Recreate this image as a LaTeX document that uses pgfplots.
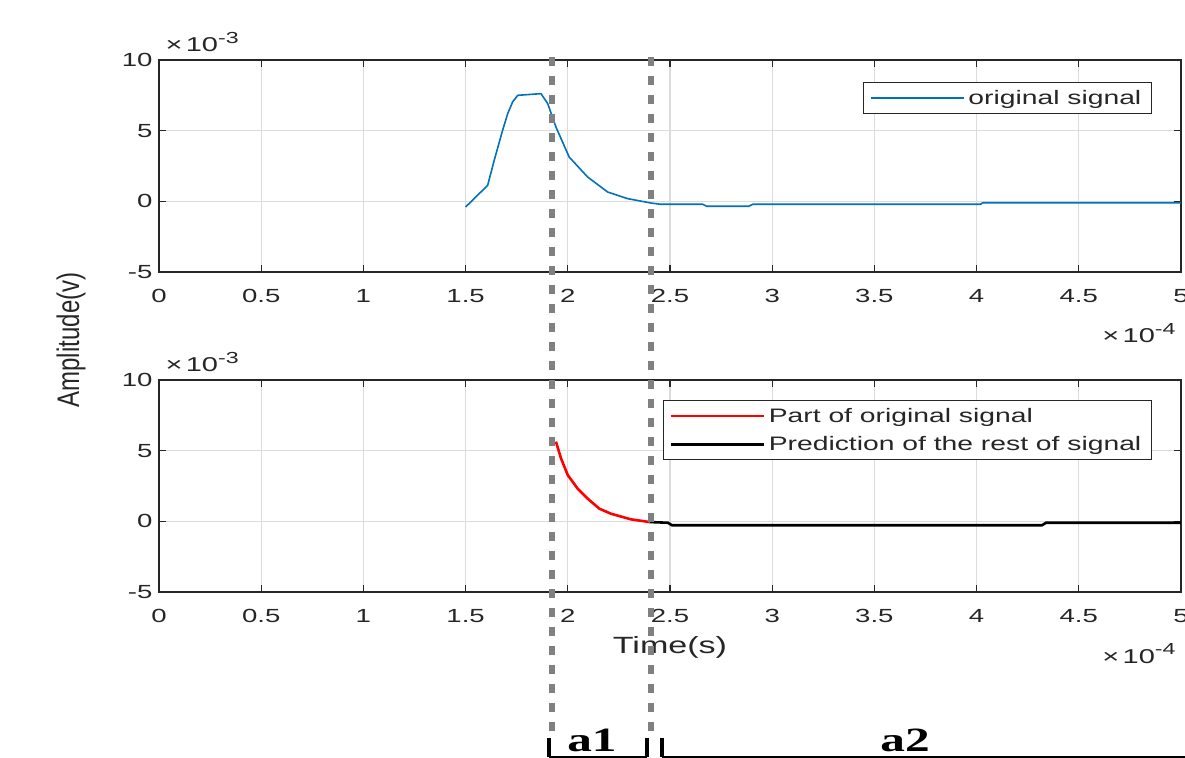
\documentclass[border=0pt]{standalone}
\usepackage{pgfplots}
\pgfplotsset{compat=1.18}
\usepackage{fontspec}
\setmainfont{Liberation Sans}[FakeStretch=1.45]
\newfontfamily\uprightsans{Liberation Sans}
\newfontfamily\serifbold{Liberation Serif}[FakeStretch=1.45]

\definecolor{mlblue}{RGB}{0,114,189}
\definecolor{axgray}{RGB}{38,38,38}
\definecolor{gridgray}{RGB}{220,220,220}
\definecolor{dashgray}{RGB}{128,128,128}

\newcommand{\scalelabel}[1]{{\fontsize{20bp}{22bp}\selectfont ×\,10\raisebox{0.42em}{\fontsize{16bp}{16bp}\selectfont #1}}}

\pgfplotsset{
  mlaxis/.style={
    scale only axis, width=1022bp, height=212bp,
    xmin=0, xmax=5, ymin=-5, ymax=10,
    xtick={0,0.5,...,5},
    xticklabels={0,0.5,1,1.5,2,2.5,3,3.5,4,4.5,5},
    ytick={-5,0,5,10}, yticklabels={-5,0,5,10},
    grid=major,
    major grid style={gridgray, line width=1.3bp},
    axis line style={axgray, line width=1.4bp},
    tick style={axgray, line width=1.2bp},
    major tick length=7bp, tick align=inside,
    tick label style={font=\fontsize{19bp}{20bp}\selectfont, text=axgray},
    xticklabel shift=14bp, yticklabel shift=3bp,
    clip=false,
    legend cell align=left,
    legend image code/.code={\draw[##1] (0bp,0bp) -- (93bp,0bp);},
    legend style={
      draw=axgray, line width=1.2bp, fill=white,
      inner xsep=6bp, inner ysep=4.5bp, row sep=7bp,
      font=\fontsize{19.5bp}{21bp}\selectfont, text=axgray,
      nodes={inner xsep=4bp, inner ysep=3bp},
    },
  },
}

\begin{document}
\begin{tikzpicture}
\useasboundingbox (0,0) rectangle (1185bp,758bp);

% upper panel: the measured signal
\begin{axis}[mlaxis, name=upper, at={(159bp,486bp)}, anchor=south west,
  legend style={at={(0.9716,0.896)}, anchor=north east}]
\addplot[mlblue, line width=1.6bp] coordinates {
  (1.500,-0.40) (1.608,1.13) (1.640,2.90) (1.681,5.02) (1.706,6.20)
  (1.730,7.03) (1.755,7.50) (1.869,7.62) (1.902,6.91) (1.942,5.26)
  (2.007,3.13) (2.097,1.72) (2.195,0.66) (2.293,0.19) (2.407,-0.12)
  (2.456,-0.21) (2.660,-0.21) (2.680,-0.35) (2.885,-0.35) (2.905,-0.21)
  (4.020,-0.21) (4.030,-0.10) (5.000,-0.10)
};
\addlegendentry{original signal}
\node[anchor=base west, xshift=3bp, yshift=8bp, text=axgray] at (rel axis cs:0,1) {\scalelabel{-3}};
\node[anchor=base west, xshift=-82bp, yshift=-71bp, text=axgray] at (rel axis cs:1,0) {\scalelabel{-4}};
\end{axis}

% lower panel: measured part and predicted remainder
\begin{axis}[mlaxis, name=lower, at={(159bp,166bp)}, anchor=south west,
  legend style={at={(0.9716,0.9057)}, anchor=north east}]
\addplot[red, line width=2.6bp] coordinates {
  (1.942,5.64) (1.967,4.45) (2.000,3.27) (2.048,2.32) (2.097,1.61)
  (2.154,0.90) (2.211,0.54) (2.309,0.14) (2.400,-0.05)
};
\addlegendentry{Part of original signal}
\addplot[black, line width=2.6bp] coordinates {
  (2.400,-0.05) (2.490,-0.10) (2.510,-0.28) (4.320,-0.28) (4.340,-0.10) (5.000,-0.10)
};
\addlegendentry{Prediction of the rest of signal}
\node[anchor=base west, xshift=3bp, yshift=8bp, text=axgray] at (rel axis cs:0,1) {\scalelabel{-3}};
\node[anchor=base west, xshift=-82bp, yshift=-71bp, text=axgray] at (rel axis cs:1,0) {\scalelabel{-4}};
\node[anchor=center, yshift=-55bp, text=axgray, font=\fontsize{23.5bp}{24bp}\selectfont] at (rel axis cs:0.5,0) {Time(s)};

% window boundaries across both panels
\draw[dashgray, line width=5.5bp, dash pattern=on 9bp off 10bp] (axis cs:1.923,32.85) -- (axis cs:1.923,-14.9);
\draw[dashgray, line width=5.5bp, dash pattern=on 9bp off 10bp] (axis cs:2.407,32.85) -- (axis cs:2.407,-14.9);

% interval brackets a1 and a2
\draw[black, line width=3.2bp] (axis cs:1.908,-15.33) -- (axis cs:1.908,-16.68);
\draw[black, line width=3.2bp] (axis cs:2.388,-15.33) -- (axis cs:2.388,-16.68);
\draw[black, line width=2bp] (axis cs:1.908,-16.68) -- (axis cs:2.388,-16.68);
\draw[black, line width=3.2bp] (axis cs:2.461,-15.33) -- (axis cs:2.461,-16.68);
\draw[black, line width=2bp] (axis cs:2.461,-16.68) -- (axis cs:5.1,-16.68);
\node[anchor=base, font=\serifbold\bfseries\fontsize{34bp}{34bp}\selectfont] at (axis cs:2.118,-16.25) {a1};
\node[anchor=base, font=\serifbold\bfseries\fontsize{34bp}{34bp}\selectfont] at (axis cs:3.650,-16.25) {a2};
\end{axis}

\node[rotate=90, text=axgray] at (71bp,418bp) {\scalebox{1}[1.3]{\uprightsans\fontsize{24bp}{24bp}\selectfont Amplitude(v)}};
\end{tikzpicture}
\end{document}
